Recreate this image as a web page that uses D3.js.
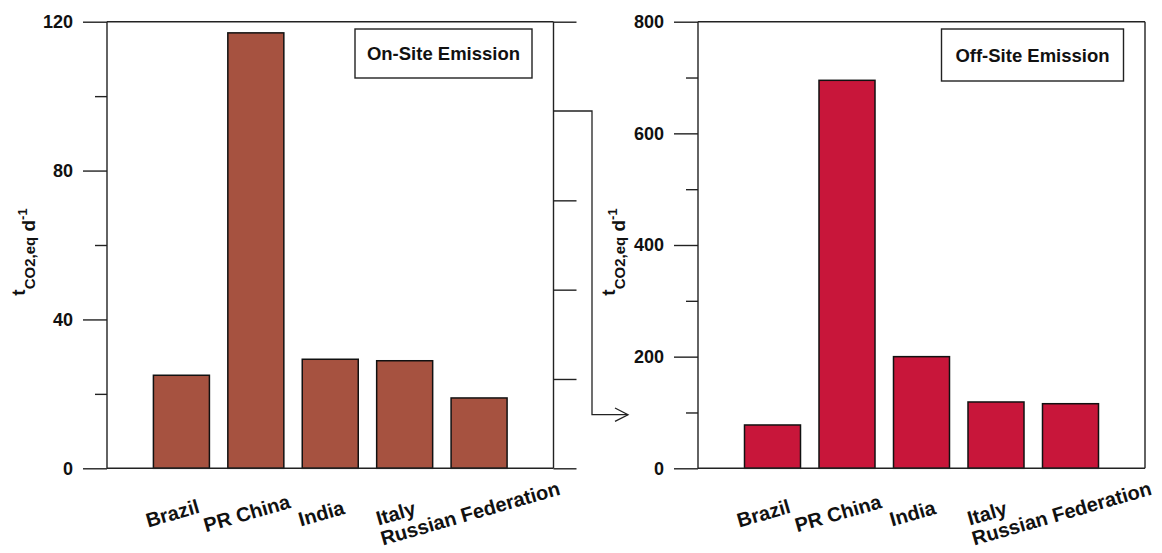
<!DOCTYPE html>
<html>
<head>
<meta charset="utf-8">
<script src="https://cdn.jsdelivr.net/npm/d3@7"></script>
<style>
  body { margin: 0; background: #fff; }
  svg { font-family: "Liberation Sans", Arial, sans-serif; font-weight: bold; }
</style>
</head>
<body>
<script>
// data
var landen = ["Brazil", "PR China", "India", "Italy", "Russian Federation"];
var onSite = [25.0, 117.0, 29.3, 28.9, 18.9];
var offSite = [77.6, 695, 200, 118.8, 115.7];

var onSiteTicks = [0, 40, 80, 120];
var onSiteMinor = [20, 60, 100];
var onSiteRechts = [0, 24, 48, 72, 120];
var offSiteTicks = [0, 200, 400, 600, 800];
var offSiteMinor = [100, 300, 500, 700];

// de pijl gaat van 96 (links) naar 96 (rechts)
var pijlVan = 96;
var pijlNaar = 96;

var breedte = 1162, hoogte = 553;
var boven = 21.7, onder = 468.3;

var svg = d3.select("body").append("svg")
  .attr("width", breedte)
  .attr("height", hoogte);

function paneel(opt) {
  var x = d3.scalePoint().domain(landen).range([opt.links, opt.rechts]).padding(1);
  var y = d3.scaleLinear().domain([0, opt.max]).range([onder, boven]);
  var g = svg.append("g");

  // balken
  g.selectAll("rect")
    .data(opt.waarden)
    .enter()
    .append("rect")
    .attr("x", function(d, i) { return x(landen[i]) - 28; })
    .attr("y", function(d) { return y(d); })
    .attr("width", 56)
    .attr("height", function(d) { return y(0) - y(d); })
    .attr("fill", opt.kleur)
    .attr("stroke", "#111")
    .attr("stroke-width", 1.5);

  // linker as
  var asY = g.append("g")
    .attr("transform", "translate(" + opt.links + ",0)")
    .call(d3.axisLeft(y).tickValues(opt.ticks).tickSize(24).tickPadding(10).tickFormat(d3.format("d")));
  g.append("g")
    .attr("transform", "translate(" + opt.links + ",0)")
    .call(d3.axisLeft(y).tickValues(opt.minor).tickSize(12).tickFormat(""));

  g.selectAll(".domain").remove();
  g.selectAll(".tick line").attr("stroke", "#222").attr("stroke-width", 1.4);
  asY.selectAll(".tick text").attr("font-size", "18px").attr("fill", "#111")
    .style("font-family", "'Liberation Sans', Arial, sans-serif").style("font-weight", "bold");

  // kader
  g.append("line").attr("x1", opt.links).attr("x2", opt.links).attr("y1", y(opt.max)).attr("y2", y(0))
    .attr("stroke", "#222").attr("stroke-width", 1.4);
  g.append("line").attr("x1", opt.links).attr("x2", opt.rechts).attr("y1", y(opt.max)).attr("y2", y(opt.max))
    .attr("stroke", "#222").attr("stroke-width", 1.4);
  g.append("line").attr("x1", opt.links).attr("x2", opt.rechts).attr("y1", y(0)).attr("y2", y(0))
    .attr("stroke", "#222").attr("stroke-width", 1.4);
  g.append("line").attr("x1", opt.rechts).attr("x2", opt.rechts).attr("y1", y(opt.max)).attr("y2", y(0))
    .attr("stroke", "#222").attr("stroke-width", 1.4);

  // x labels
  g.selectAll(".xlabel")
    .data(landen)
    .enter()
    .append("text")
    .attr("class", "xlabel")
    .attr("transform", function(d) { return "translate(" + (x(d) - 7) + ",520) rotate(-16)"; })
    .attr("text-anchor", "middle")
    .attr("font-size", "20px")
    .attr("fill", "#111")
    .text(function(d) { return d; });

  // y as titel
  var titel = g.append("text")
    .attr("transform", "translate(" + opt.titelX + ",252) rotate(-90)")
    .attr("text-anchor", "middle")
    .attr("fill", "#111");
  titel.append("tspan").attr("font-size", "19px").attr("dy", -10).text("t");
  titel.append("tspan").attr("font-size", "15px").attr("dy", 10).text("CO2,eq");
  titel.append("tspan").attr("font-size", "19px").text(" d");
  titel.append("tspan").attr("font-size", "13px").attr("dy", -8).text("-1");

  // legenda
  g.append("rect")
    .attr("x", opt.rechts - 21.5 - opt.boxBreedte)
    .attr("y", 29)
    .attr("width", opt.boxBreedte)
    .attr("height", opt.boxHoogte)
    .attr("fill", "#fff")
    .attr("stroke", "#222")
    .attr("stroke-width", 1.4);
  g.append("text")
    .attr("x", opt.rechts - 21.5 - opt.boxBreedte / 2)
    .attr("y", 29 + opt.boxHoogte / 2 + 6.5)
    .attr("text-anchor", "middle")
    .attr("font-size", "18.5px")
    .attr("fill", "#111")
    .text(opt.titel);

  return {x: x, y: y, g: g};
}

var links = paneel({links: 107, rechts: 553.5, max: 120, waarden: onSite, kleur: "#a65240",
  ticks: onSiteTicks, minor: onSiteMinor, titelX: 35, titel: "On-Site Emission", boxBreedte: 177, boxHoogte: 49});
var rechts = paneel({links: 698, rechts: 1145, max: 800, waarden: offSite, kleur: "#c8163a",
  ticks: offSiteTicks, minor: offSiteMinor, titelX: 625, titel: "Off-Site Emission", boxBreedte: 182, boxHoogte: 52});

// rechter as van het linker paneel
links.g.append("g")
  .attr("transform", "translate(553.5,0)")
  .call(d3.axisRight(links.y).tickValues(onSiteRechts).tickSize(23).tickFormat(""))
  .call(function(a) { a.select(".domain").remove(); })
  .selectAll(".tick line").attr("stroke", "#222").attr("stroke-width", 1.4);

// pijl van links naar rechts
var yA = links.y(pijlVan), yB = rechts.y(pijlNaar);
svg.append("path")
  .attr("d", "M553.5," + yA + "H592V" + yB + "H628")
  .attr("fill", "none").attr("stroke", "#222").attr("stroke-width", 1.3);
svg.append("path")
  .attr("d", "M615," + (yB - 6.7) + "L628," + yB + "L615," + (yB + 6.7))
  .attr("fill", "none").attr("stroke", "#222").attr("stroke-width", 1.3);
</script>
</body>
</html>
